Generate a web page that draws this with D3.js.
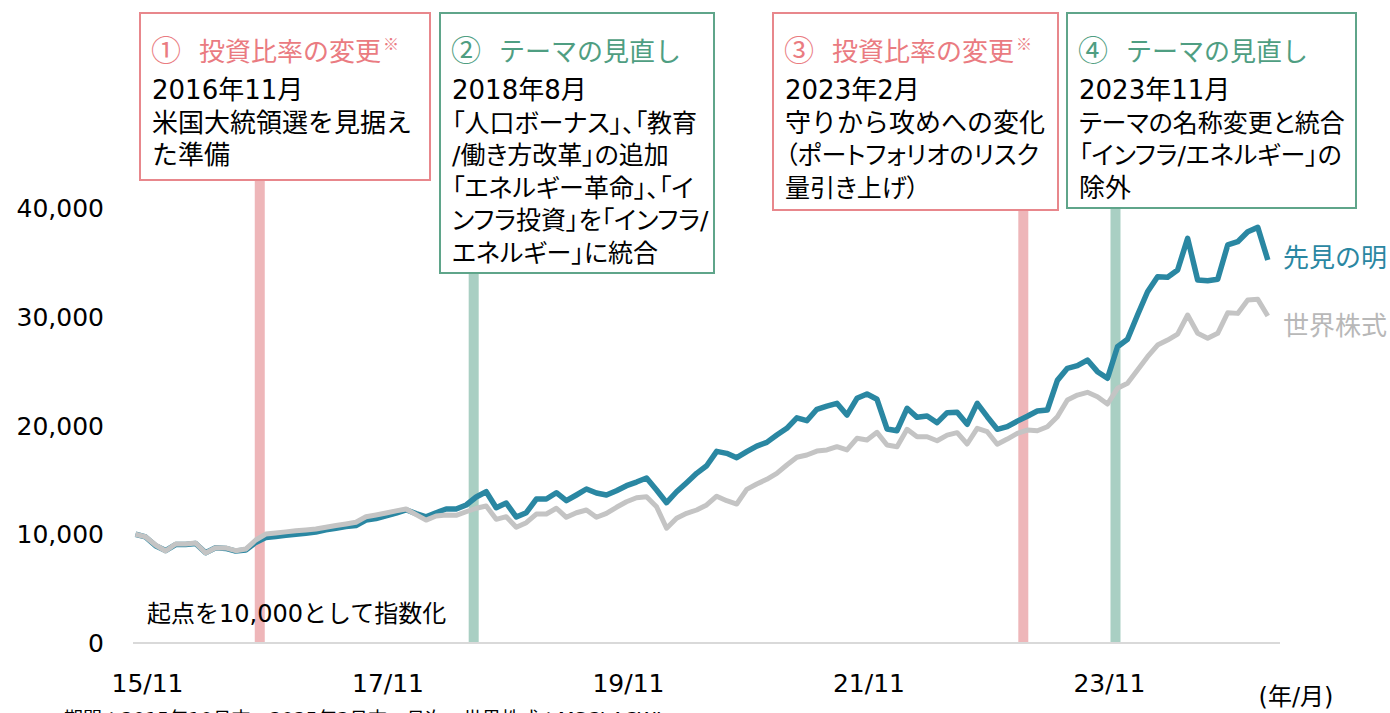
<!DOCTYPE html>
<html>
<head>
<meta charset="utf-8">
<script src="https://cdn.jsdelivr.net/npm/d3@7"></script>
<style>
  body { margin: 0; background: #fff; }
  text { font-family: "DejaVu Sans", "Noto Sans CJK JP", sans-serif; }
</style>
</head>
<body>
<div id="chart"></div>
<script>
// monthly index, first point = 10,000 (2015/10 end ... 2025/3 end)
var foresight = [
  10000, 9750, 8950, 8500, 9050, 9050, 9150, 8300, 8750, 8700,
  8450, 8550, 9250, 9700, 9800, 9900, 10000, 10100, 10200, 10400,
  10550, 10700, 10800, 11300, 11450, 11700, 11950, 12250, 11900, 11600,
  11980, 12320, 12320, 12690, 13425, 13910, 12440, 12870, 11585, 11980,
  13240, 13240, 13820, 13085, 13610, 14160, 13790, 13610, 14005, 14465,
  14800, 15170, 14070, 12900, 13910, 14740, 15600, 16300, 17620, 17440,
  17040, 17590, 18110, 18450, 19120, 19740, 20710, 20440, 21490, 21790,
  22040, 20960, 22500, 22900, 22410, 19680, 19520, 21580, 20750, 20870,
  20260, 21180, 21210, 20110, 22040, 20810, 19650, 19900, 20400, 20850,
  21330, 21425, 24150, 25260, 25500, 26020, 24950, 24340, 27245, 27925,
  30160, 32300, 33680, 33630, 34300, 37210, 33380, 33310, 33440, 36600,
  36900, 37820, 38220, 35220
];
var world = [
  10000, 9770, 9010, 8460, 9100, 9100, 9200, 8280, 8760, 8740,
  8490, 8640, 9470, 10020, 10110, 10220, 10330, 10400, 10480, 10650,
  10800, 10940, 11100, 11610, 11770, 11950, 12150, 12320, 11800, 11300,
  11680, 11770, 11740, 12070, 12390, 12600, 11375, 11615, 10640, 11060,
  11860, 11860, 12390, 11560, 11980, 12230, 11560, 11925, 12480, 12990,
  13360, 13450, 12530, 10550, 11470, 11925, 12230, 12690, 13500, 13085,
  12780, 14130, 14620, 15050, 15600, 16370, 17075, 17290, 17650, 17750,
  18050, 17750, 18820, 18670, 19370, 18200, 18050, 19650, 18970, 18970,
  18600, 19120, 19340, 18300, 19740, 19430, 18280, 18750, 19280, 19585,
  19520, 19890, 20810, 22340, 22800, 23050, 22650, 21975, 23420, 23880,
  25100, 26325, 27400, 27860, 28410, 30160, 28480, 28020, 28480, 30370,
  30310, 31540, 31600, 30070
];
var seriesNames = ["先見の明", "世界株式"];

var yTicks = [0, 10000, 20000, 30000, 40000];
var xTickIdx = [1, 25, 49, 73, 97];
var xTickLabels = ["15/11", "17/11", "19/11", "21/11", "23/11"];

// events: month position of the marker band
var eventMonth = [12.4, 33.75, 88.6, 97.8];
var eventNum = ["①", "②", "③", "④"];
var eventTitle = ["投資比率の変更", "テーマの見直し", "投資比率の変更", "テーマの見直し"];
var eventNote = ["※", "", "※", ""];
var eventLines = [
  ["2016年11月", "米国大統領選を見据え", "た準備"],
  ["2018年8月", "「人口ボーナス」、「教育", "/働き方改革」の追加", "「エネルギー革命」、「イ", "ンフラ投資」を「インフラ/", "エネルギー」に統合"],
  ["2023年2月", "守りから攻めへの変化", "（ポートフォリオのリスク", "量引き上げ）"],
  ["2023年11月", "テーマの名称変更と統合", "「インフラ/エネルギー」の", "除外"]
];
var eventKind = ["ratio", "theme", "ratio", "theme"];

// set the dimensions
var width = 1390,
    height = 713;

var svg = d3.select("#chart")
  .append("svg")
    .attr("width", width)
    .attr("height", height);

var x = d3.scaleLinear()
    .domain([0, foresight.length - 1])
    .range([135.5, 1267.8]);

var y = d3.scaleLinear()
    .domain([0, 40000])
    .range([643, 208]);

var pal = {
  ratio: { band: "#eeb6b9", border: "#e8878c", text: "#ea7b81" },
  theme: { band: "#a9cfc3", border: "#5fa58a", text: "#4f9e82" }
};

// box layout (left, right, bottom) for each event
var boxes = [
  { x0: 140, x1: 430, y1: 180 },
  { x0: 440, x1: 714, y1: 273 },
  { x0: 773, x1: 1058, y1: 210 },
  { x0: 1067, x1: 1356, y1: 208 }
];
var boxTop = 13;

// marker bands from the axis up to each box
svg.selectAll("rect.band")
  .data(eventMonth)
  .enter()
  .append("rect")
    .attr("class", "band")
    .attr("x", function(d) { return x(d) - 5; })
    .attr("width", 10)
    .attr("y", function(d, i) { return boxes[i].y1; })
    .attr("height", function(d, i) { return y(0) - boxes[i].y1; })
    .attr("fill", function(d, i) { return pal[eventKind[i]].band; });

// baseline
svg.append("line")
  .attr("x1", 133).attr("x2", 1280)
  .attr("y1", y(0)).attr("y2", y(0))
  .attr("stroke", "#d9d9d9")
  .attr("stroke-width", 2);

// y axis labels
svg.selectAll("text.ytick")
  .data(yTicks)
  .enter()
  .append("text")
    .attr("class", "ytick")
    .attr("x", 104)
    .attr("y", function(d) { return y(d) + 9; })
    .attr("text-anchor", "end")
    .style("font-size", "25px")
    .attr("fill", "#000")
    .text(function(d) { return d3.format(",")(d); });

// x axis labels
svg.selectAll("text.xtick")
  .data(xTickIdx)
  .enter()
  .append("text")
    .attr("class", "xtick")
    .attr("x", function(d) { return x(d) + 2; })
    .attr("y", 692)
    .attr("text-anchor", "middle")
    .style("font-size", "25px")
    .attr("fill", "#000")
    .text(function(d, i) { return xTickLabels[i]; });

svg.append("text")
  .attr("x", 1296).attr("y", 705)
  .attr("text-anchor", "middle")
  .style("font-size", "24px")
  .text("(年/月)");

// lines
var line = d3.line()
  .x(function(d, i) { return x(i); })
  .y(function(d) { return y(d); });

svg.append("path")
  .datum(foresight)
  .attr("d", line)
  .attr("fill", "none")
  .attr("stroke", "#2a87a2")
  .attr("stroke-width", 5.5)
  .attr("stroke-linejoin", "round");

svg.append("path")
  .datum(world)
  .attr("d", line)
  .attr("fill", "none")
  .attr("stroke", "#c4c4c4")
  .attr("stroke-width", 5)
  .attr("stroke-linejoin", "round");

// series labels at the line ends
var last = foresight.length - 1;
svg.append("text")
  .attr("x", 1283).attr("y", y(foresight[last]) + 7)
  .style("font-size", "26px")
  .attr("fill", "#2a87a2")
  .text(seriesNames[0]);

svg.append("text")
  .attr("x", 1283).attr("y", y(world[last]) + 19)
  .style("font-size", "26px")
  .attr("fill", "#b8b8b8")
  .text(seriesNames[1]);

svg.append("text")
  .attr("x", 147).attr("y", 622)
  .style("font-size", "24px")
  .text("起点を10,000として指数化");

// event boxes
var box = svg.selectAll("g.box")
  .data(boxes)
  .enter()
  .append("g")
    .attr("class", "box");

box.append("rect")
  .attr("x", function(d) { return d.x0; })
  .attr("y", boxTop)
  .attr("width", function(d) { return d.x1 - d.x0; })
  .attr("height", function(d) { return d.y1 - boxTop; })
  .attr("fill", "#fff")
  .attr("stroke", function(d, i) { return pal[eventKind[i]].border; })
  .attr("stroke-width", 2);

var title = box.append("text")
  .attr("x", function(d) { return d.x0 + 11; })
  .attr("y", 61)
  .style("font-size", "26px")
  .style("font-family", "'Noto Sans CJK JP', sans-serif")
  .attr("fill", function(d, i) { return pal[eventKind[i]].text; });

title.append("tspan")
  .style("font-size", "30px")
  .text(function(d, i) { return eventNum[i]; });
title.append("tspan")
  .attr("dx", 18)
  .text(function(d, i) { return eventTitle[i]; });
title.append("tspan")
  .attr("dx", 2)
  .attr("dy", -11)
  .style("font-size", "16px")
  .text(function(d, i) { return eventNote[i]; });

// proportional widths only for lines with kana-heavy or bracketed text
var narrow = /[「」、（）/ー]/;

box.each(function(d, i) {
  d3.select(this).selectAll("text.body")
    .data(eventLines[i])
    .enter()
    .append("text")
      .attr("class", "body")
      .attr("x", d.x0 + 12)
      .attr("y", function(t, k) { return 99 + k * 32.5; })
      .style("font-size", function(t) { return narrow.test(t) ? "25px" : "26px"; })
      .style("font-feature-settings", function(t) { return narrow.test(t) ? "'palt'" : "normal"; })
      .attr("fill", "#000")
      .text(function(t) { return t; });
});

// footnote, cut off at the bottom edge
svg.append("text")
  .attr("x", 64).attr("y", 726)
  .style("font-size", "19px")
  .attr("fill", "#000")
  .text("期間：2015年10月末～2025年3月末、月次。世界株式：MSCI ACWI");
</script>
</body>
</html>
